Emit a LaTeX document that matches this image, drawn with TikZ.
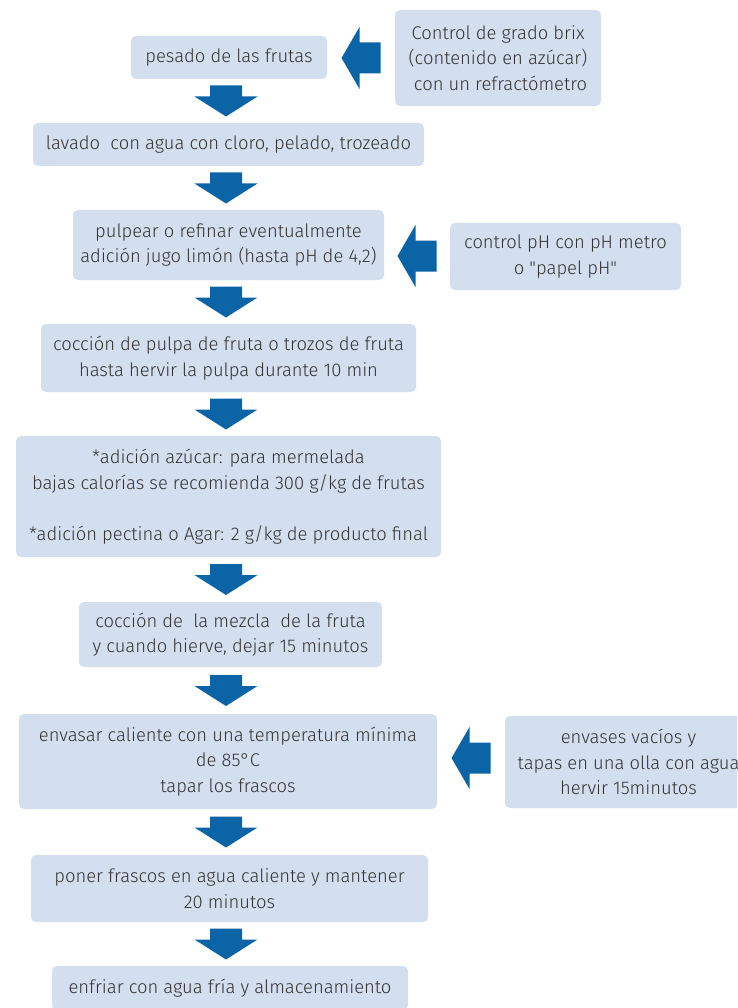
\documentclass[tikz,border=0pt]{standalone}
\usepackage{fontspec}
\newfontfamily\boxfont{Fira Sans}[UprightFont=* Light, Ligatures=TeXOff]
\usetikzlibrary{calc}
\definecolor{boxfill}{HTML}{D3DEEF}
\definecolor{arrowblue}{HTML}{0A64A6}
\definecolor{boxtext}{HTML}{333333}
\tikzset{
  stepbox/.style={rounded corners=5pt, fill=boxfill, inner sep=0pt,
    align=center, text=boxtext,
    font=\boxfont\fontsize{18.4}{25.5}\selectfont},
  downarr/.pic={\fill[arrowblue] (-16,-15.5) -- (16,-15.5) -- (16,-4.5)
    -- (31.5,-4.5) -- (0,15.5) -- (-31.5,-4.5) -- (-16,-4.5) -- cycle;},
  leftarr/.pic={\fill[arrowblue] (19.5,-15.5) -- (-1.5,-15.5) -- (-1.5,-31)
    -- (-19.5,0) -- (-1.5,31) -- (-1.5,15.5) -- (19.5,15.5) -- cycle;},
}
\begin{document}
\begin{tikzpicture}[x=1pt,y=-1pt]
\clip (0,0) rectangle (737,1008);
\fill[white] (0,0) rectangle (737,1008);

% main column
\node[stepbox, minimum width=196, minimum height=43] (b1) at (229,57.5) {pesado de las frutas};
\node[stepbox, minimum width=391, minimum height=43] (b2) at (228.5,144.5) {lavado\ \ con agua con cloro, pelado, trozeado};
\node[stepbox, minimum width=311, minimum height=70] (b3) at (228.5,245) {pulpear o refinar eventualmente\\adición jugo limón (hasta pH de 4,2)};
\node[stepbox, minimum width=375, minimum height=68] (b4) at (228.5,358) {cocción de pulpa de fruta o trozos de fruta\\hasta hervir la pulpa durante 10 min};
\node[stepbox, minimum width=425, minimum height=121] (b5) at (228.5,496.5) {*adición azúcar: para mermelada\\bajas calorías se recomienda 300 g/kg de frutas\\[25.5pt]*adición pectina o Agar: 2 g/kg de producto final};
\node[stepbox, minimum width=303, minimum height=65] (b6) at (230.5,634.5) {cocción de\ \ la mezcla\ \ de la fruta\\y cuando hierve, dejar 15 minutos};
\node[stepbox, minimum width=418, minimum height=95] (b7) at (228,761.5) {envasar caliente con una temperatura mínima\\de 85°C\\tapar los frascos};
\node[stepbox, minimum width=397, minimum height=67] (b8) at (229.5,888.5) {poner frascos en agua caliente y mantener\ \\20 minutos};
\node[stepbox, minimum width=356, minimum height=44] (b9) at (230,988) {enfriar con agua fría y almacenamiento};

% side checks
\node[stepbox, minimum width=206, minimum height=96] (s1) at (498,58) {Control de grado brix\\(contenido en azúcar)\\\ con un refractómetro};
\node[stepbox, minimum width=231, minimum height=67] (s3) at (565.5,256.5) {control pH con pH metro\\o "papel pH"};
\node[stepbox, minimum width=247, minimum height=92] (s7) at (628.5,762) {envases vacíos y\\tapas en una olla con agua\\hervir 15minutos};

% flow arrows
\coordinate (axis) at (226,0);
\foreach \a/\b in {b1/b2,b2/b3,b3/b4,b4/b5,b5/b6,b6/b7,b7/b8,b8/b9}{
  \path (\a.south) -- (\b.north) coordinate[pos=0.5] (m-\a);
  \pic at (axis |- m-\a) {downarr};
}
\path (b1.east) -- (s1.west) coordinate[pos=0.5] (l1);
\pic at (l1 |- s1.west) {leftarr};
\path (b3.east) -- (s3.west) coordinate[pos=0.5] (l3);
\pic at ($(l3 |- s3.west)+(0,-0.5)$) {leftarr};
\path (b7.east) -- (s7.west) coordinate[pos=0.5] (l7);
\pic at ($(l7 |- s7.west)+(0,-4)$) {leftarr};
\end{tikzpicture}
\end{document}
